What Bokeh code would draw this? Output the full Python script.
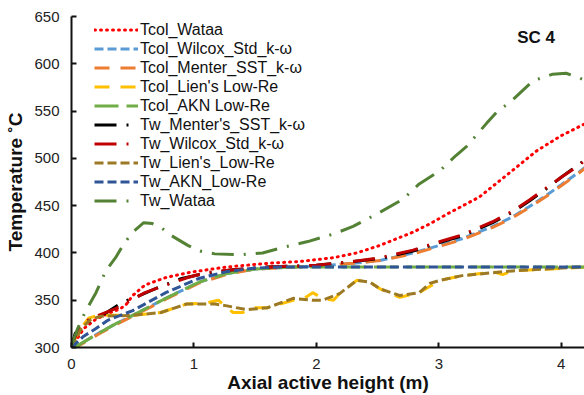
from bokeh.plotting import figure
from bokeh.models import Range1d, Label, FixedTicker
from bokeh.embed import file_html
from bokeh.resources import INLINE

# ---------------- data ----------------
x_ticks = [0, 1, 2, 3, 4]
y_ticks = [300, 350, 400, 450, 500, 550, 600, 650]

x_tcol_wataa = [0, 0.10, 0.20, 0.30, 0.40, 0.45, 0.50, 0.60, 0.77, 0.99, 1.26, 1.60, 1.87, 2.14, 2.33, 2.52,
                2.79, 2.93, 3.08, 3.33, 3.60, 3.80, 4.00, 4.17, 4.20]
y_tcol_wataa = [300, 320, 330, 336, 341, 346, 355, 366, 374, 380, 385, 389, 391, 395, 400, 408,
                422, 431, 442, 459, 487, 508, 524, 535, 537]

x_tcol = [0, 0.05, 0.22, 0.36, 0.50, 0.77, 1.04, 1.26, 1.50, 1.80, 2.00, 2.30, 2.52, 2.79, 3.06, 3.19,
          3.44, 3.60, 3.74, 3.88, 4.00, 4.15, 4.20]
y_tcol_wilcox = [300, 302, 315, 325, 334, 352, 369, 378, 383, 385, 386, 389, 392, 400, 410, 415,
                 428, 438, 449, 461, 472, 486, 491]
y_tcol_menter = [300, 301, 314, 324, 333, 351, 368, 377, 383, 385, 386, 389, 392, 399, 409, 414,
                 427, 437, 448, 460, 471, 485, 490]

x_tcol_lien = [0, 0.05, 0.14, 0.22, 0.50, 0.73, 0.94, 1.10, 1.20, 1.27, 1.32, 1.40, 1.48, 1.60, 1.81,
               1.90, 1.97, 2.05, 2.14, 2.19, 2.33, 2.44, 2.52, 2.68, 2.84, 3.01, 3.19, 3.45, 3.52,
               3.60, 4.20]
y_tcol_lien = [300, 316, 331, 334, 334, 337, 346, 347, 350, 342, 337, 337, 342, 342, 350,
               352, 358, 352, 350, 357, 371, 369, 362, 353, 358, 371, 376, 380, 377,
               381, 385]

x_tcol_akn = [0, 0.05, 0.22, 0.36, 0.50, 0.77, 1.04, 1.26, 1.50, 1.80, 4.20]
y_tcol_akn = [300, 302, 315, 325, 334, 352, 369, 378, 383, 385, 385]

x_tw_menter = [0, 0.03, 0.11, 0.17, 0.30, 0.42, 0.52, 0.70, 0.90, 1.04, 1.30, 1.60, 2.00, 2.30, 2.52,
               2.79, 3.06, 3.19, 3.44, 3.60, 3.74, 3.88, 4.00, 4.15, 4.20]
y_tw_menter = [300, 315, 325, 329, 338, 348, 353, 363, 373, 377, 382, 385, 387, 391, 394,
               402, 413, 418, 432, 443, 455, 468, 480, 494, 499]

x_tw_wilcox = [0, 0.05, 0.12, 0.22, 0.36, 0.50, 0.60, 0.77, 0.95, 1.09, 1.30, 1.60, 2.00, 2.30, 2.52,
               2.79, 3.06, 3.19, 3.44, 3.60, 3.74, 3.88, 4.00, 4.15, 4.20]
y_tw_wilcox = [300, 318, 328, 334, 341, 351, 358, 366, 374, 379, 382, 385, 387, 391, 395,
               403, 414, 419, 433, 444, 456, 469, 480, 493, 499]

x_tw_lien = [0, 0.08, 0.16, 0.24, 0.50, 0.73, 0.94, 1.17, 1.27, 1.43, 1.60, 1.81, 1.97, 2.05, 2.19,
             2.33, 2.44, 2.52, 2.68, 2.84, 2.93, 3.01, 3.19, 3.60, 4.15, 4.20]
y_tw_lien = [300, 320, 330, 333, 334, 337, 346, 346, 344, 340, 342, 352, 350, 350, 357,
             371, 369, 362, 355, 358, 368, 371, 376, 381, 385, 385]

x_tw_akn = [0, 0.10, 0.20, 0.30, 0.50, 0.77, 1.04, 1.26, 1.50, 1.70, 4.20]
y_tw_akn = [300, 312, 320, 329, 339, 358, 373, 380, 384, 385, 385]

x_tw_wataa = [0, 0.05, 0.11, 0.20, 0.28, 0.36, 0.43, 0.50, 0.59, 0.66, 0.74, 0.82, 0.95, 1.05, 1.17,
              1.38, 1.56, 1.73, 1.93, 2.14, 2.30, 2.52, 2.71, 2.84, 3.01, 3.14, 3.23, 3.39, 3.48,
              3.58, 3.77, 3.93, 4.04, 4.15, 4.20]
y_tw_wataa = [302, 320, 337, 358, 381, 395, 410, 422, 432, 431, 426, 418, 408, 402, 399,
              398, 400, 406, 412, 420, 428, 443, 457, 473, 487, 503, 513, 537, 550,
              559, 582, 589, 590, 585, 582]

# ---------------- figure ----------------
FONT = "Liberation Sans"

p = figure(width=584, height=395, output_backend="svg", toolbar_location=None,
           x_range=Range1d(0, 4.19), y_range=Range1d(300, 650),
           min_border_left=71, min_border_right=0, min_border_top=16, min_border_bottom=48)
p.outline_line_color = None
p.grid.visible = False
p.background_fill_color = "white"
p.border_fill_color = "white"

series = [
    ("Tcol_Wataa", x_tcol_wataa, y_tcol_wataa, "#FF0000", "1 5", "round"),
    ("Tcol_Wilcox_Std_k-ω", x_tcol, y_tcol_wilcox, "#5B9BD5", "9 4", "butt"),
    ("Tcol_Menter_SST_k-ω", x_tcol, y_tcol_menter, "#ED7D31", "15 11", "butt"),
    ("Tcol_Lien's Low-Re", x_tcol_lien, y_tcol_lien, "#FFC000", "15 11", "butt"),
    ("Tcol_AKN Low-Re", x_tcol_akn, y_tcol_akn, "#70AD47", "24 8", "butt"),
    ("Tw_Menter's_SST_k-ω", x_tw_menter, y_tw_menter, "#000000", "22 10 2 10", "butt"),
    ("Tw_Wilcox_Std_k-ω", x_tw_wilcox, y_tw_wilcox, "#C00000", "22 10 2 10", "butt"),
    ("Tw_Lien's_Low-Re", x_tw_lien, y_tw_lien, "#9C7A25", "9 4", "butt"),
    ("Tw_AKN_Low-Re", x_tw_akn, y_tw_akn, "#2F5597", "9 4", "butt"),
    ("Tw_Wataa", x_tw_wataa, y_tw_wataa, "#548235", "22 10 2 10", "butt"),
]

for name, xs, ys, color, dash, cap in series:
    p.line(xs, ys, line_color=color, line_width=3, line_dash=dash, line_cap=cap,
           legend_label=name)

# axes
for ax in (p.xaxis[0], p.yaxis[0]):
    ax.axis_line_color = "#111111"
    ax.axis_line_width = 2
    ax.major_tick_line_color = "#111111"
    ax.major_tick_line_width = 2
    ax.major_tick_in = 5
    ax.major_tick_out = 0
    ax.minor_tick_line_color = None
    ax.major_label_text_font = FONT
    ax.major_label_text_font_size = "15px"
    ax.major_label_text_color = "#222222"
    ax.axis_label_text_font = FONT
    ax.axis_label_text_font_size = "19px"
    ax.axis_label_text_font_style = "bold"
    ax.axis_label_text_color = "#111111"

p.xaxis.ticker = FixedTicker(ticks=x_ticks)
p.yaxis.ticker = FixedTicker(ticks=y_ticks)
p.xaxis.axis_label = "Axial active height (m)"
p.yaxis.axis_label = "Temperature ˚C"
p.xaxis.major_label_standoff = 11
p.xaxis.axis_label_standoff = 0
p.yaxis.major_label_standoff = 12
p.yaxis.axis_label_standoff = 5

# legend
lg = p.legend[0]
lg.location = (23, 137)
lg.padding = 0
lg.margin = 0
lg.spacing = 0
lg.glyph_width = 44
lg.glyph_height = 19
lg.label_height = 19
lg.label_standoff = 2
lg.label_text_font = FONT
lg.label_text_font_size = "16px"
lg.label_text_color = "#111111"
lg.border_line_alpha = 0
lg.background_fill_alpha = 0

p.add_layout(Label(x=3.64, y=628, text="SC 4", text_font=FONT, text_font_size="17px",
                   text_font_style="bold", text_baseline="middle", text_align="left",
                   text_color="#111111"))

open("out.html", "w").write(file_html(p, INLINE))
